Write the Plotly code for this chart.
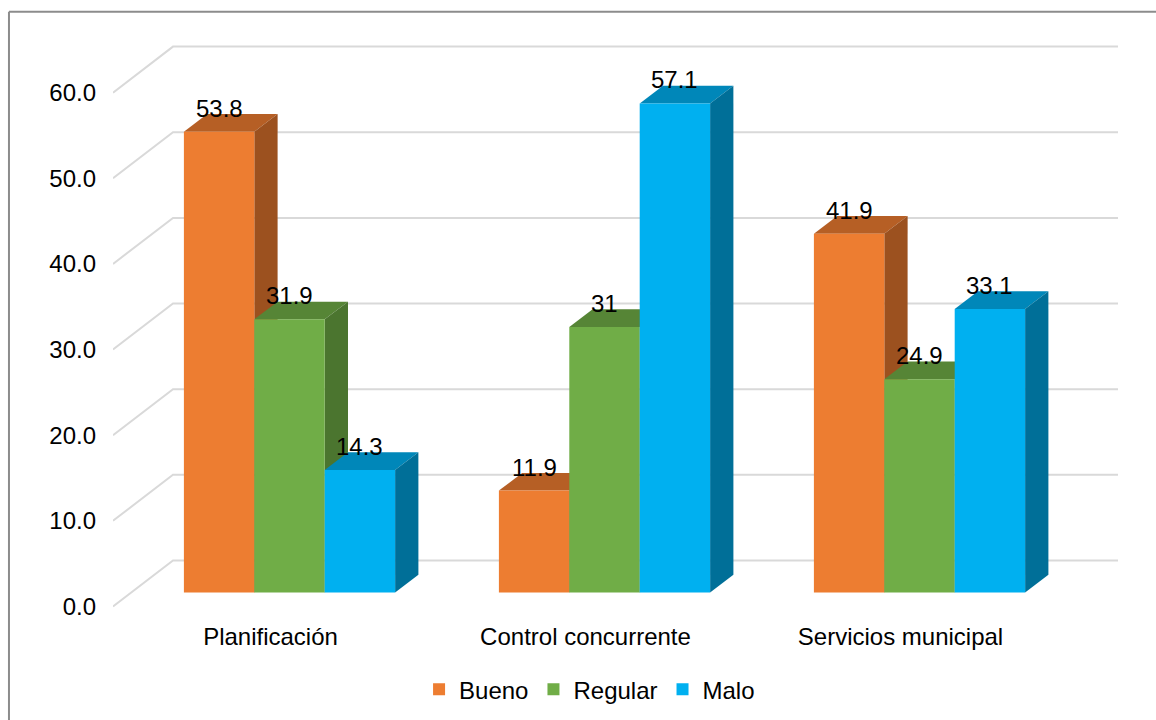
import plotly.graph_objects as go

# ---- data ----
categories = ["Planificación", "Control concurrente", "Servicios municipal"]
series_names = ["Bueno", "Regular", "Malo"]
bueno = [53.8, 11.9, 41.9]
regular = [31.9, 31.0, 24.9]
malo = [14.3, 57.1, 33.1]
y_ticks = [0, 10, 20, 30, 40, 50, 60]

values = [bueno, regular, malo]
front_colors = ["#ED7D31", "#70AD47", "#00B0F0"]
top_colors = ["#B65F25", "#568536", "#0087B9"]
side_colors = ["#9C511F", "#4B752F", "#006F98"]

# ---- 3D projection geometry (in axis units) ----
PX_CAT = 315.0
PX_UNIT = 8.555
wall_dx, wall_dy = 60 / PX_CAT, 46 / PX_UNIT
front_dx, front_dy = 19 / PX_CAT, 14 / PX_UNIT
depth_dx, depth_dy = 23.3 / PX_CAT, 17.6 / PX_UNIT
bar_w = 70.4 / PX_CAT

FONT = "Liberation Sans, Arial, sans-serif"
FS = 24

fig = go.Figure()
shapes = []

# perspective gridlines (front-left diagonal + back wall)
for v in y_ticks:
    path = (f"M {-0.5},{v} L {-0.5 + wall_dx},{v + wall_dy} "
            f"L {2.5 + wall_dx},{v + wall_dy}")
    shapes.append(dict(type="path", path=path, xref="x", yref="y", layer="below",
                       line=dict(color="#D9D9D9", width=2)))

annotations = []
xs = list(range(len(categories)))
for k, name in enumerate(series_names):
    off = front_dx - 1.5 * bar_w + k * bar_w
    fig.add_trace(go.Bar(
        x=xs, y=values[k], base=front_dy, width=bar_w, offset=off,
        name=name, marker=dict(color=front_colors[k], line=dict(width=0)),
        hoverinfo="skip"))

# top and side faces, painted left to right
for i in xs:
    for k in range(len(series_names)):
        v = values[k][i]
        L = i + front_dx - 1.5 * bar_w + k * bar_w
        R = L + bar_w
        B = front_dy
        T = v + front_dy
        top = (f"M {L},{T} L {R},{T} L {R + depth_dx},{T + depth_dy} "
               f"L {L + depth_dx},{T + depth_dy} Z")
        side = (f"M {R},{B} L {R},{T} L {R + depth_dx},{T + depth_dy} "
                f"L {R + depth_dx},{B + depth_dy} Z")
        shapes.append(dict(type="path", path=top, xref="x", yref="y", layer="below",
                           fillcolor=top_colors[k], line=dict(width=0)))
        shapes.append(dict(type="path", path=side, xref="x", yref="y", layer="below",
                           fillcolor=side_colors[k], line=dict(width=0)))
        annotations.append(dict(x=(L + R) / 2, y=T, xref="x", yref="y",
                                text=f"{v:g}", showarrow=False, yanchor="bottom",
                                yshift=8, font=dict(family=FONT, size=FS, color="#000000")))

# outer frame (left and top edges)
shapes.append(dict(type="line", xref="paper", yref="paper", x0=-0.1032, x1=-0.1032,
                   y0=1.0435, y1=-0.3, line=dict(color="#8C8C8C", width=2)))
shapes.append(dict(type="line", xref="paper", yref="paper", x0=-0.1032, x1=1.1,
                   y0=1.0435, y1=1.0435, line=dict(color="#8C8C8C", width=2)))

fig.update_layout(
    width=1156, height=720,
    margin=dict(l=113, r=35, t=37, b=105, autoexpand=False),
    paper_bgcolor="white", plot_bgcolor="white",
    barmode="overlay",
    shapes=shapes, annotations=annotations,
    font=dict(family=FONT, size=FS, color="#000000"),
    xaxis=dict(range=[-0.5, 2.7], tickvals=xs, ticktext=categories, automargin=False,
               showgrid=False, zeroline=False, showline=False, ticks="",
               ticklabelstandoff=5, tickfont=dict(family=FONT, size=FS, color="#000000")),
    yaxis=dict(range=[-1, 66.5], tickvals=y_ticks, tickformat=".1f", automargin=False,
               showgrid=False, zeroline=False, showline=False, ticks="",
               ticklabelstandoff=16, tickfont=dict(family=FONT, size=FS, color="#000000")),
    legend=dict(orientation="h", xref="container", yref="container",
                x=0.51, xanchor="center", y=0.042, yanchor="middle",
                font=dict(family=FONT, size=FS, color="#000000"), itemclick=False),
    showlegend=True,
)

fig.write_html("out.html")
